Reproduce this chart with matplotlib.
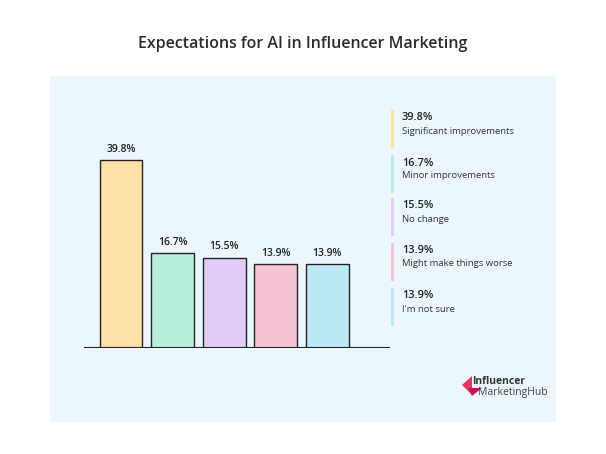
import matplotlib
matplotlib.use("Agg")
import matplotlib.pyplot as plt
from matplotlib.patches import Rectangle, Polygon

categories = ["Significant improvements", "Minor improvements", "No change",
              "Might make things worse", "I'm not sure"]
values = [39.8, 16.7, 15.5, 13.9, 13.9]
labels = ["39.8%", "16.7%", "15.5%", "13.9%", "13.9%"]
colors = ["#fde0a6", "#b9eedc", "#e0cdf8", "#f6c3d3", "#bde8f8"]

plt.rcParams['font.family'] = ['Open Sans', 'DejaVu Sans']
fig = plt.figure(figsize=(6.06, 4.54), dpi=100)
fig.patch.set_facecolor("white")
fig.patches.append(Rectangle((50/606, 1-422/454), 506/606, 346/454,
                             transform=fig.transFigure, facecolor="#ebf7fd",
                             edgecolor="none", zorder=-10))
fig.text(0.5, 1-44/454, "Expectations for AI in Influencer Marketing",
         ha="center", va="center", fontsize=11.5, fontweight="semibold", color="#2b2b2b")

ax = fig.add_axes([84/606, 106/454, 306/606, 208/454])
ax.set_zorder(5)
ax.set_facecolor("none")
base = -7
x = list(range(len(values)))
ax.bar(x, [v - base for v in values], bottom=base, width=0.83, color=colors,
       edgecolor="#222222", linewidth=1.0)
for xi, v, l in zip(x, values, labels):
    ax.text(xi, v + 1.3, l, ha="center", va="bottom", fontsize=7.5,
            fontweight="semibold", color="#222222")
ax.set_xlim(-0.72, 5.22)
ax.set_ylim(base, 44.8)
ax.axhline(base, color="#222222", linewidth=1.5)
for s in ax.spines.values():
    s.set_visible(False)
ax.set_xticks([]); ax.set_yticks([])

tops = [110, 155, 198, 243, 288]
for t, c, l, cat in zip(tops, colors, labels, categories):
    fig.patches.append(Rectangle((391/606, 1-(t+38)/454), 3/606, 38/454,
                                 transform=fig.transFigure, facecolor=c, edgecolor="none"))
    fig.text(402/606, 1-(t+8)/454, l, fontsize=7.8, fontweight="semibold",
             color="#222222", va="center")
    fig.text(402/606, 1-(t+21)/454, cat, fontsize=6.8, color="#333333", va="center")

fig.patches.append(Polygon([(462/606, 1-385/454), (472/606, 1-376/454), (472/606, 1-395/454)],
                           closed=True, transform=fig.transFigure, facecolor="#e8345f", edgecolor="none"))
fig.patches.append(Polygon([(468/606, 1-388/454), (482/606, 1-388/454), (472/606, 1-396/454)],
                           closed=True, transform=fig.transFigure, facecolor="#c2185b", edgecolor="none"))
fig.text(472/606, 1-382/454, "Influencer", fontsize=7.5, fontweight="bold", color="#333333", va="center")
fig.text(478/606, 1-392/454, "MarketingHub", fontsize=7.5, color="#444444", va="center")

fig.savefig("out.png", dpi=100)
